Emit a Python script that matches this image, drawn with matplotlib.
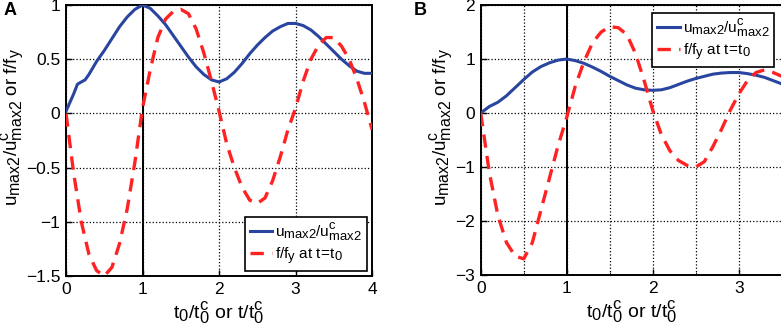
import matplotlib
matplotlib.use("Agg")
import matplotlib.pyplot as plt
import matplotlib._mathtext as mtext
from matplotlib.ticker import MultipleLocator

plt.rcParams['font.family'] = ['Liberation Sans', 'DejaVu Sans']
plt.rcParams['mathtext.fontset'] = 'custom'
plt.rcParams['mathtext.rm'] = 'Liberation Sans'
plt.rcParams['mathtext.it'] = 'Liberation Sans'
mtext.SHRINK_FACTOR = 0.85  # bigger sub/superscripts like the original

# panel A
tA = [0, 0.1, 0.2, 0.3, 0.4, 0.5, 0.6, 0.7, 0.8, 0.9, 1.0, 1.1, 1.2, 1.3, 1.4, 1.5, 1.6, 1.7, 1.8, 1.9, 2.0,
      2.1, 2.2, 2.3, 2.4, 2.5, 2.6, 2.7, 2.8, 2.9, 3.0, 3.1, 3.2, 3.3, 3.4, 3.5, 3.6, 3.7, 3.8, 3.9, 4.0]
fA = [0, -0.55, -1.0, -1.3, -1.45, -1.5, -1.42, -1.2, -0.88, -0.45, 0.05, 0.4, 0.7, 0.87, 0.94, 0.96, 0.92, 0.78, 0.56, 0.3, 0.02,
      -0.28, -0.5, -0.68, -0.8, -0.83, -0.78, -0.62, -0.4, -0.15, 0.05, 0.3, 0.5, 0.63, 0.7, 0.7, 0.62, 0.5, 0.32, 0.1, -0.15]
tuA = [0, 0.05, 0.1, 0.15, 0.2, 0.25, 0.3, 0.4, 0.5, 0.6, 0.7, 0.8, 0.9, 1.0, 1.1, 1.2, 1.3, 1.4, 1.5, 1.6, 1.7, 1.8, 1.9, 2.0,
       2.1, 2.2, 2.3, 2.4, 2.5, 2.6, 2.7, 2.8, 2.9, 3.0, 3.1, 3.2, 3.3, 3.4, 3.5, 3.6, 3.7, 3.8, 3.9, 4.0]
uA = [0.02, 0.1, 0.18, 0.27, 0.29, 0.31, 0.36, 0.48, 0.58, 0.69, 0.8, 0.89, 0.96, 1.0, 0.97, 0.9, 0.82, 0.72, 0.62, 0.52, 0.43, 0.36, 0.31, 0.29,
      0.32, 0.38, 0.46, 0.55, 0.63, 0.7, 0.76, 0.8, 0.83, 0.83, 0.81, 0.77, 0.71, 0.64, 0.57, 0.5, 0.44, 0.39, 0.37, 0.37]

# panel B
tB = [0, 0.1, 0.2, 0.3, 0.4, 0.5, 0.6, 0.7, 0.8, 0.9, 1.0, 1.1, 1.2, 1.3, 1.4, 1.5, 1.6, 1.7, 1.8, 1.9, 2.0,
      2.1, 2.2, 2.3, 2.4, 2.5, 2.6, 2.7, 2.8, 2.9, 3.0, 3.1, 3.2, 3.3, 3.4, 3.5]
uB = [0.0, 0.12, 0.2, 0.32, 0.47, 0.62, 0.76, 0.86, 0.93, 0.98, 1.0, 0.97, 0.92, 0.85, 0.77, 0.68, 0.6, 0.52, 0.46, 0.43, 0.42,
      0.43, 0.47, 0.53, 0.59, 0.64, 0.68, 0.72, 0.74, 0.75, 0.75, 0.73, 0.7, 0.66, 0.6, 0.54]
fB = [0, -1.1, -1.9, -2.4, -2.65, -2.7, -2.4, -1.8, -1.2, -0.6, -0.08, 0.5, 0.95, 1.3, 1.5, 1.6, 1.58, 1.45, 1.1, 0.6, 0.05,
      -0.4, -0.7, -0.88, -0.97, -1.0, -0.9, -0.62, -0.3, 0.05, 0.35, 0.6, 0.75, 0.8, 0.75, 0.68]

blue = '#2a45a0'
red = '#ff2222'
ulab = r'$\mathregular{u_{max2}/u^c_{max2}}$'
flab = r'$\mathregular{f/f_y}$ at $\mathregular{t\!=\!t_0}$'
ylab = r'$\mathregular{u_{max2}/u^c_{max2}}$ or $\mathregular{f/f_y}$'
xlab = r'$\mathregular{t_0/t^c_0}$ or $\mathregular{t/t^c_0}$'

fig = plt.figure(figsize=(7.81, 3.35), dpi=100)
axA = fig.add_axes([0.0845, 0.176, 0.392, 0.809])
axB = fig.add_axes([0.6155, 0.179, 0.3855, 0.806])


def style(ax, ylx):
    for s in ax.spines.values():
        s.set_linewidth(1.4)
        s.set_color('black')
    ax.tick_params(direction='in', length=4, width=1, labelsize=12.5, pad=4)
    ax.grid(True, which='both', linestyle=':', color='black', linewidth=0.9)
    ax.axvline(1, color='black', linewidth=1.4, zorder=1.5)
    ax.set_xlabel(xlab, fontsize=14, labelpad=2)
    ax.set_ylabel(ylab, fontsize=13.5)
    ax.yaxis.set_label_coords(ylx, 0.55)


axA.plot(tuA, uA, color=blue, linewidth=2.2, label=ulab, zorder=3)
axA.plot(tA, fA, color=red, linewidth=2.4, dashes=(4, 2.5), label=flab, zorder=3)
axA.set_xlim(0, 4)
axA.set_ylim(-1.5, 1)
axA.xaxis.set_major_locator(MultipleLocator(1))
axA.set_yticks([-1.5, -1, -0.5, 0, 0.5, 1])
axA.set_yticklabels(['\u22121.5', '\u22121', '\u22120.5', '0', '0.5', '1'])
style(axA, -0.13)
legA = axA.legend(loc='lower right', fontsize=11, fancybox=False, edgecolor='black', framealpha=1,
                  handlelength=1.5, handletextpad=0.2, borderpad=0.3, labelspacing=0.15, borderaxespad=0.35)
legA.get_frame().set_linewidth(1.2)

axB.plot(tB, uB, color=blue, linewidth=2.2, label=ulab, zorder=3)
axB.plot(tB, fB, color=red, linewidth=2.4, dashes=(4, 2.5), label=flab, zorder=3)
axB.set_xlim(0, 3.5)
axB.set_ylim(-3, 2)
axB.set_xticks([0, 1, 2, 3])
axB.xaxis.set_minor_locator(MultipleLocator(0.5))
axB.tick_params(which='minor', direction='in', length=2)
axB.set_yticks([-3, -2, -1, 0, 1, 2])
axB.set_yticklabels(['\u22123', '\u22122', '\u22121', '0', '1', '2'])
style(axB, -0.085)
legB = axB.legend(loc='upper right', fontsize=11, fancybox=False, edgecolor='black', framealpha=1,
                  handlelength=1.5, handletextpad=0.2, borderpad=0.3, labelspacing=0.15, borderaxespad=0.5)
legB.get_frame().set_linewidth(1.2)

fig.text(0.005, 0.955, 'A', fontsize=13, fontweight='bold')
fig.text(0.53, 0.955, 'B', fontsize=13, fontweight='bold')

fig.savefig('out.png', dpi=100)
